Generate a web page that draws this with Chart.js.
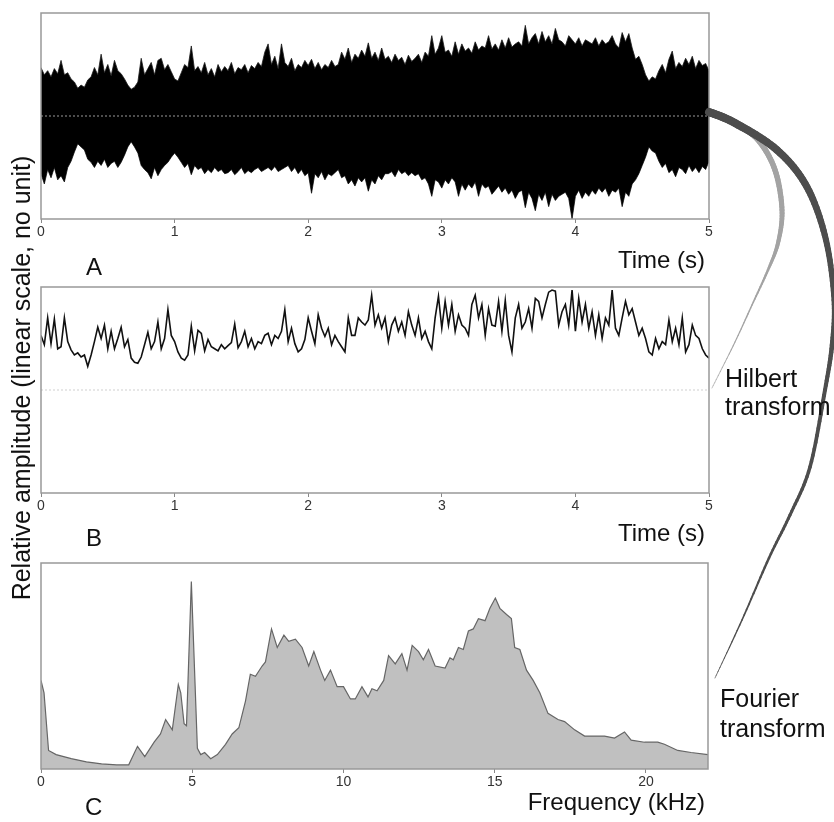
<!DOCTYPE html>
<html>
<head>
<meta charset="utf-8">
<script src="https://cdn.jsdelivr.net/npm/chart.js@4.4.0/dist/chart.umd.min.js"></script>
<style>
  body { margin: 0; background: #fff; }
  #wrap { position: relative; width: 834px; height: 822px; overflow: hidden;
          font-family: "Liberation Sans", Arial, sans-serif; color: #111; }
  .panel { position: absolute; left: 0; }
  .lbl { position: absolute; font-size: 24px; line-height: 24px; white-space: nowrap; }
  .right { text-align: right; }
  #arrows { position: absolute; left: 0; top: 0; pointer-events: none; }
  #ytitle { position: absolute; width: 470px; height: 30px; line-height: 30px; font-size: 25px;
            text-align: center; white-space: nowrap; left: -214.5px; top: 363px; transform: rotate(-90deg); }
</style>
</head>
<body>
<div id="wrap">
  <canvas id="chartA" class="panel" style="top:0" width="834" height="245"></canvas>
  <canvas id="chartB" class="panel" style="top:274px" width="834" height="245"></canvas>
  <canvas id="chartC" class="panel" style="top:550px" width="834" height="245"></canvas>
  <canvas id="arrows" width="834" height="822"></canvas>

  <div class="lbl" style="left:86px; top:255px">A</div>
  <div class="lbl right" style="right:129px; top:248px">Time (s)</div>
  <div class="lbl" style="left:86px; top:526px">B</div>
  <div class="lbl right" style="right:129px; top:521px">Time (s)</div>
  <div class="lbl" style="left:85px; top:795px">C</div>
  <div class="lbl right" style="right:129px; top:790px">Frequency (kHz)</div>
  <div class="lbl" style="left:725px; top:364px; font-size:25px; line-height:28px">Hilbert<br>transform</div>
  <div class="lbl" style="left:720px; top:683px; font-size:25px; line-height:30px">Fourier<br>transform</div>
  <div id="ytitle">Relative amplitude (linear scale, no unit)</div>
</div>

<script>
// ---- data ----
// A: raw waveform, max / min per 0.025 s
const waveStep = 0.025;
const waveMax = [
  0.47,0.40,0.44,0.38,0.46,0.41,0.54,0.40, 0.42,0.36,0.33,0.27,0.30,0.28,0.35,0.38,
  0.47,0.40,0.60,0.42,0.50,0.39,0.54,0.44, 0.41,0.36,0.30,0.26,0.28,0.33,0.56,0.40,
  0.46,0.52,0.40,0.54,0.56,0.45,0.50,0.43, 0.36,0.34,0.42,0.50,0.47,0.68,0.44,0.48,
  0.42,0.52,0.40,0.46,0.38,0.50,0.43,0.48, 0.44,0.52,0.41,0.47,0.45,0.50,0.42,0.49,
  0.46,0.52,0.48,0.62,0.70,0.50,0.58,0.46, 0.70,0.52,0.48,0.56,0.44,0.50,0.47,0.54,
  0.49,0.55,0.46,0.52,0.45,0.50,0.47,0.54, 0.48,0.50,0.62,0.55,0.66,0.52,0.60,0.56,
  0.64,0.58,0.71,0.56,0.62,0.54,0.66,0.55, 0.58,0.52,0.60,0.54,0.57,0.50,0.59,0.53,
  0.56,0.60,0.52,0.62,0.58,0.78,0.60,0.66, 0.78,0.62,0.64,0.58,0.72,0.60,0.70,0.63,
  0.66,0.61,0.72,0.64,0.68,0.66,0.78,0.65, 0.70,0.64,0.74,0.66,0.76,0.67,0.70,0.72,
  0.68,0.88,0.70,0.76,0.80,0.70,0.82,0.72, 0.78,0.70,0.85,0.74,0.72,0.68,0.78,0.74,
  0.70,0.76,0.68,0.74,0.72,0.70,0.76,0.68, 0.74,0.70,0.72,0.78,0.70,0.66,0.81,0.72,
  0.80,0.66,0.55,0.58,0.50,0.40,0.34,0.38, 0.36,0.44,0.50,0.42,0.55,0.63,0.46,0.52,
  0.48,0.56,0.50,0.58,0.46,0.54,0.49,0.51, 0.44
];
const waveMin = [
  -0.56,-0.66,-0.52,-0.60,-0.50,-0.62,-0.58,-0.64, -0.50,-0.44,-0.35,-0.27,-0.30,-0.33,-0.42,-0.45,
  -0.50,-0.44,-0.48,-0.42,-0.50,-0.46,-0.44,-0.50, -0.45,-0.38,-0.30,-0.25,-0.30,-0.36,-0.48,-0.52,
  -0.55,-0.61,-0.50,-0.58,-0.52,-0.48,-0.45,-0.40, -0.36,-0.40,-0.45,-0.50,-0.46,-0.57,-0.48,-0.52,
  -0.50,-0.56,-0.52,-0.55,-0.50,-0.54,-0.52,-0.56, -0.55,-0.52,-0.57,-0.54,-0.50,-0.56,-0.53,-0.55,
  -0.52,-0.50,-0.54,-0.52,-0.50,-0.53,-0.49,-0.54, -0.52,-0.50,-0.48,-0.54,-0.50,-0.56,-0.52,-0.58,
  -0.55,-0.75,-0.56,-0.60,-0.54,-0.62,-0.56,-0.58, -0.55,-0.52,-0.60,-0.58,-0.66,-0.62,-0.68,-0.60,
  -0.64,-0.60,-0.73,-0.62,-0.66,-0.58,-0.62,-0.56, -0.56,-0.54,-0.59,-0.52,-0.56,-0.54,-0.58,-0.55,
  -0.58,-0.56,-0.62,-0.60,-0.66,-0.78,-0.62,-0.64, -0.70,-0.62,-0.66,-0.60,-0.64,-0.78,-0.66,-0.72,
  -0.66,-0.70,-0.64,-0.78,-0.66,-0.70,-0.68,-0.76, -0.72,-0.68,-0.74,-0.70,-0.76,-0.72,-0.80,-0.74,
  -0.72,-0.89,-0.74,-0.80,-0.92,-0.76,-0.82,-0.74, -0.88,-0.76,-0.82,-0.78,-0.76,-0.74,-0.80,-1.00,
  -0.78,-0.72,-0.80,-0.74,-0.78,-0.72,-0.76,-0.70, -0.74,-0.70,-0.78,-0.72,-0.74,-0.70,-0.88,-0.74,
  -0.78,-0.66,-0.62,-0.56,-0.48,-0.40,-0.30,-0.34, -0.36,-0.44,-0.50,-0.46,-0.55,-0.52,-0.59,-0.50,
  -0.52,-0.56,-0.48,-0.54,-0.50,-0.55,-0.49,-0.52, -0.44
];

// B: Hilbert envelope, one value per 0.025 s
const envStep = 0.025;
const envelope = [
  0.53,0.44,0.70,0.45,0.69,0.40,0.42,0.70,0.47,0.39,
  0.34,0.36,0.32,0.34,0.23,0.34,0.47,0.61,0.50,0.63,
  0.40,0.57,0.40,0.50,0.61,0.42,0.49,0.31,0.27,0.26,
  0.32,0.44,0.56,0.40,0.47,0.66,0.40,0.50,0.78,0.53,
  0.47,0.37,0.31,0.29,0.34,0.62,0.38,0.58,0.55,0.38,
  0.49,0.42,0.40,0.38,0.44,0.40,0.43,0.46,0.64,0.41,
  0.47,0.57,0.42,0.50,0.40,0.47,0.45,0.53,0.55,0.44,
  0.53,0.50,0.57,0.78,0.47,0.60,0.45,0.37,0.40,0.49,
  0.70,0.57,0.45,0.73,0.60,0.52,0.60,0.44,0.53,0.47,
  0.42,0.37,0.70,0.53,0.53,0.70,0.66,0.63,0.68,0.92,
  0.63,0.73,0.60,0.70,0.47,0.63,0.70,0.57,0.66,0.53,
  0.76,0.63,0.53,0.70,0.50,0.57,0.47,0.40,0.70,0.91,
  0.60,0.86,0.63,0.83,0.57,0.73,0.63,0.60,0.53,0.83,
  0.92,0.70,0.83,0.53,0.79,0.63,0.62,0.86,0.57,0.87,
  0.53,0.37,0.70,0.83,0.60,0.66,0.79,0.60,0.89,0.86,
  0.70,0.83,0.95,0.97,0.96,0.63,0.76,0.83,0.63,0.97,
  0.57,0.89,0.66,0.83,0.60,0.76,0.53,0.73,0.50,0.70,
  0.63,0.97,0.60,0.53,0.70,0.86,0.73,0.79,0.66,0.53,
  0.60,0.50,0.37,0.34,0.50,0.40,0.47,0.44,0.68,0.47,
  0.60,0.44,0.70,0.37,0.44,0.63,0.53,0.50,0.40,0.34,
  0.31
];

// C: Fourier spectrum
const specFreq = [
  0,0.1,0.25,0.5,1,1.5,2,2.5,2.9,3.19,3.43,3.74,3.95,4.12,4.34,4.54,4.62,4.73,4.81,4.97,
  5.17,5.28,5.41,5.61,5.83,6.10,6.32,6.54,6.76,6.92,7.09,7.31,7.42,7.62,7.81,8.03,8.19,8.41,8.63,8.85,
  9.02,9.24,9.38,9.57,9.79,10.0,10.23,10.39,10.61,10.81,10.94,11.11,11.33,11.49,11.71,11.93,12.1,12.27,12.48,12.64,
  12.81,13.03,13.36,13.52,13.63,13.80,13.96,14.13,14.29,14.46,14.68,14.84,15.02,15.17,15.39,15.55,15.66,15.83,16.05,16.27,
  16.49,16.76,17.09,17.31,17.64,17.97,18.41,18.63,18.96,19.29,19.51,19.95,20.39,20.61,21.05,21.49,22.05
];
const specAmp = [
  0.43,0.37,0.09,0.07,0.05,0.035,0.025,0.02,0.02,0.11,0.06,0.13,0.17,0.24,0.19,0.41,0.37,0.22,0.21,0.91,
  0.10,0.07,0.08,0.05,0.07,0.12,0.17,0.20,0.33,0.46,0.45,0.50,0.52,0.68,0.59,0.65,0.62,0.63,0.59,0.50,
  0.57,0.48,0.43,0.48,0.40,0.40,0.34,0.34,0.40,0.35,0.39,0.38,0.43,0.55,0.51,0.56,0.48,0.60,0.57,0.53,
  0.58,0.50,0.49,0.54,0.53,0.59,0.58,0.67,0.68,0.73,0.72,0.78,0.83,0.78,0.75,0.73,0.59,0.58,0.48,0.43,
  0.37,0.27,0.24,0.23,0.19,0.16,0.16,0.16,0.15,0.18,0.14,0.13,0.13,0.12,0.09,0.08,0.07
];

const timeMax = 5;
const freqMax = 22.05;

// ---- charts ----
Chart.defaults.font.family = '"Liberation Sans", Arial, sans-serif';

const frameBox = {
    id: "frameBox",
    afterDatasetsDraw(chart) {
        const { ctx, chartArea: a } = chart;
        ctx.save();
        ctx.strokeStyle = "#999";
        ctx.lineWidth = 1.5;
        ctx.strokeRect(a.left, a.top, a.right - a.left, a.bottom - a.top);
        ctx.restore();
    }
};

function panelOptions(xMax, step, yMin, yMax, rightPad) {
    return {
        responsive: false,
        animation: false,
        events: [],
        layout: { padding: { left: 41, right: rightPad, top: 13, bottom: 0 } },
        plugins: { legend: { display: false }, tooltip: { enabled: false } },
        scales: {
            x: {
                type: "linear", min: 0, max: xMax, offset: false,
                ticks: { stepSize: step, includeBounds: false, padding: 1, color: "#333",
                         font: { size: 14 }, maxRotation: 0, autoSkip: false },
                grid: { offset: false, drawOnChartArea: false, drawTicks: true, tickLength: 4, color: "#888" },
                border: { display: false },
                afterFit: s => { s.height = 26; }
            },
            y: { display: false, min: yMin, max: yMax }
        }
    };
}

const zeroLine = t => [{ x: 0, y: 0 }, { x: t, y: 0 }];

// A: waveform drawn as the filled band between its max and min traces
new Chart(document.getElementById("chartA"), {
    type: "line",
    data: {
        datasets: [
            { data: zeroLine(timeMax), borderColor: "#9a9a9a", borderWidth: 1, borderDash: [2, 2],
              pointRadius: 0, order: 0 },
            { data: waveMax.map((v, i) => ({ x: i * waveStep, y: v })), fill: "+1",
              backgroundColor: "#000", borderColor: "#1a1a1a", borderWidth: 0.8,
              pointRadius: 0, tension: 0, order: 1 },
            { data: waveMin.map((v, i) => ({ x: i * waveStep, y: v })),
              borderColor: "#1a1a1a", borderWidth: 0.8, pointRadius: 0, tension: 0, order: 2 }
        ]
    },
    options: panelOptions(timeMax, 1, -1, 1, 125),
    plugins: [frameBox]
});

// B
new Chart(document.getElementById("chartB"), {
    type: "line",
    data: {
        datasets: [
            { data: zeroLine(timeMax), borderColor: "#cfcfcf", borderWidth: 1, borderDash: [2, 2],
              pointRadius: 0, order: 1 },
            { data: envelope.map((v, i) => ({ x: i * envStep, y: v })), borderColor: "#111",
              borderWidth: 1.6, pointRadius: 0, tension: 0, order: 0 }
        ]
    },
    options: panelOptions(timeMax, 1, -1, 1, 125),
    plugins: [frameBox]
});

// C
new Chart(document.getElementById("chartC"), {
    type: "line",
    data: {
        datasets: [
            { data: specFreq.map((f, i) => ({ x: f, y: specAmp[i] })), fill: "origin",
              backgroundColor: "#c0c0c0", borderColor: "#666", borderWidth: 1.2,
              pointRadius: 0, tension: 0 }
        ]
    },
    options: panelOptions(freqMax, 5, 0, 1, 126),
    plugins: [frameBox]
});

// ---- curved "transform" strokes on the right ----
function drawSweep(ctx, pts, color) {
    const samples = [];
    for (let i = 0; i < pts.length - 1; i++) {
        const p0 = pts[Math.max(i - 1, 0)], p1 = pts[i], p2 = pts[i + 1], p3 = pts[Math.min(i + 2, pts.length - 1)];
        for (let s = 0; s < 12; s++) {
            const t = s / 12, t2 = t * t, t3 = t2 * t;
            const cr = k => 0.5 * (2 * p1[k] + (-p0[k] + p2[k]) * t +
                (2 * p0[k] - 5 * p1[k] + 4 * p2[k] - p3[k]) * t2 +
                (-p0[k] + 3 * p1[k] - 3 * p2[k] + p3[k]) * t3);
            samples.push([cr(0), cr(1), p1[2] + (p2[2] - p1[2]) * t]);
        }
    }
    samples.push(pts[pts.length - 1]);
    ctx.strokeStyle = color;
    ctx.lineCap = "round";
    for (let i = 0; i < samples.length - 1; i++) {
        ctx.lineWidth = samples[i][2];
        ctx.beginPath();
        ctx.moveTo(samples[i][0], samples[i][1]);
        ctx.lineTo(samples[i + 1][0], samples[i + 1][1]);
        ctx.stroke();
    }
}

const actx = document.getElementById("arrows").getContext("2d");
drawSweep(actx, [[709,112,5],[735,124,5],[758,140,5.5],[775,170,5.5],[782,210,5],[778,243,4],
                 [768,270,2.5],[752,305,1.5],[735,342,1.1],[712,388,0.6]], "#a3a3a3");
drawSweep(actx, [[709,112,8],[735,123,8],[777,150,7.5],[807,187,7],[826,240,6],[834,300,5],
                 [832,345,4.5],[825,390,4],[810,467,3.5],[790,515,3],[769,558,2.5],[742,620,1.5],
                 [715,678,0.6]], "#4d4d4d");
</script>
</body>
</html>
